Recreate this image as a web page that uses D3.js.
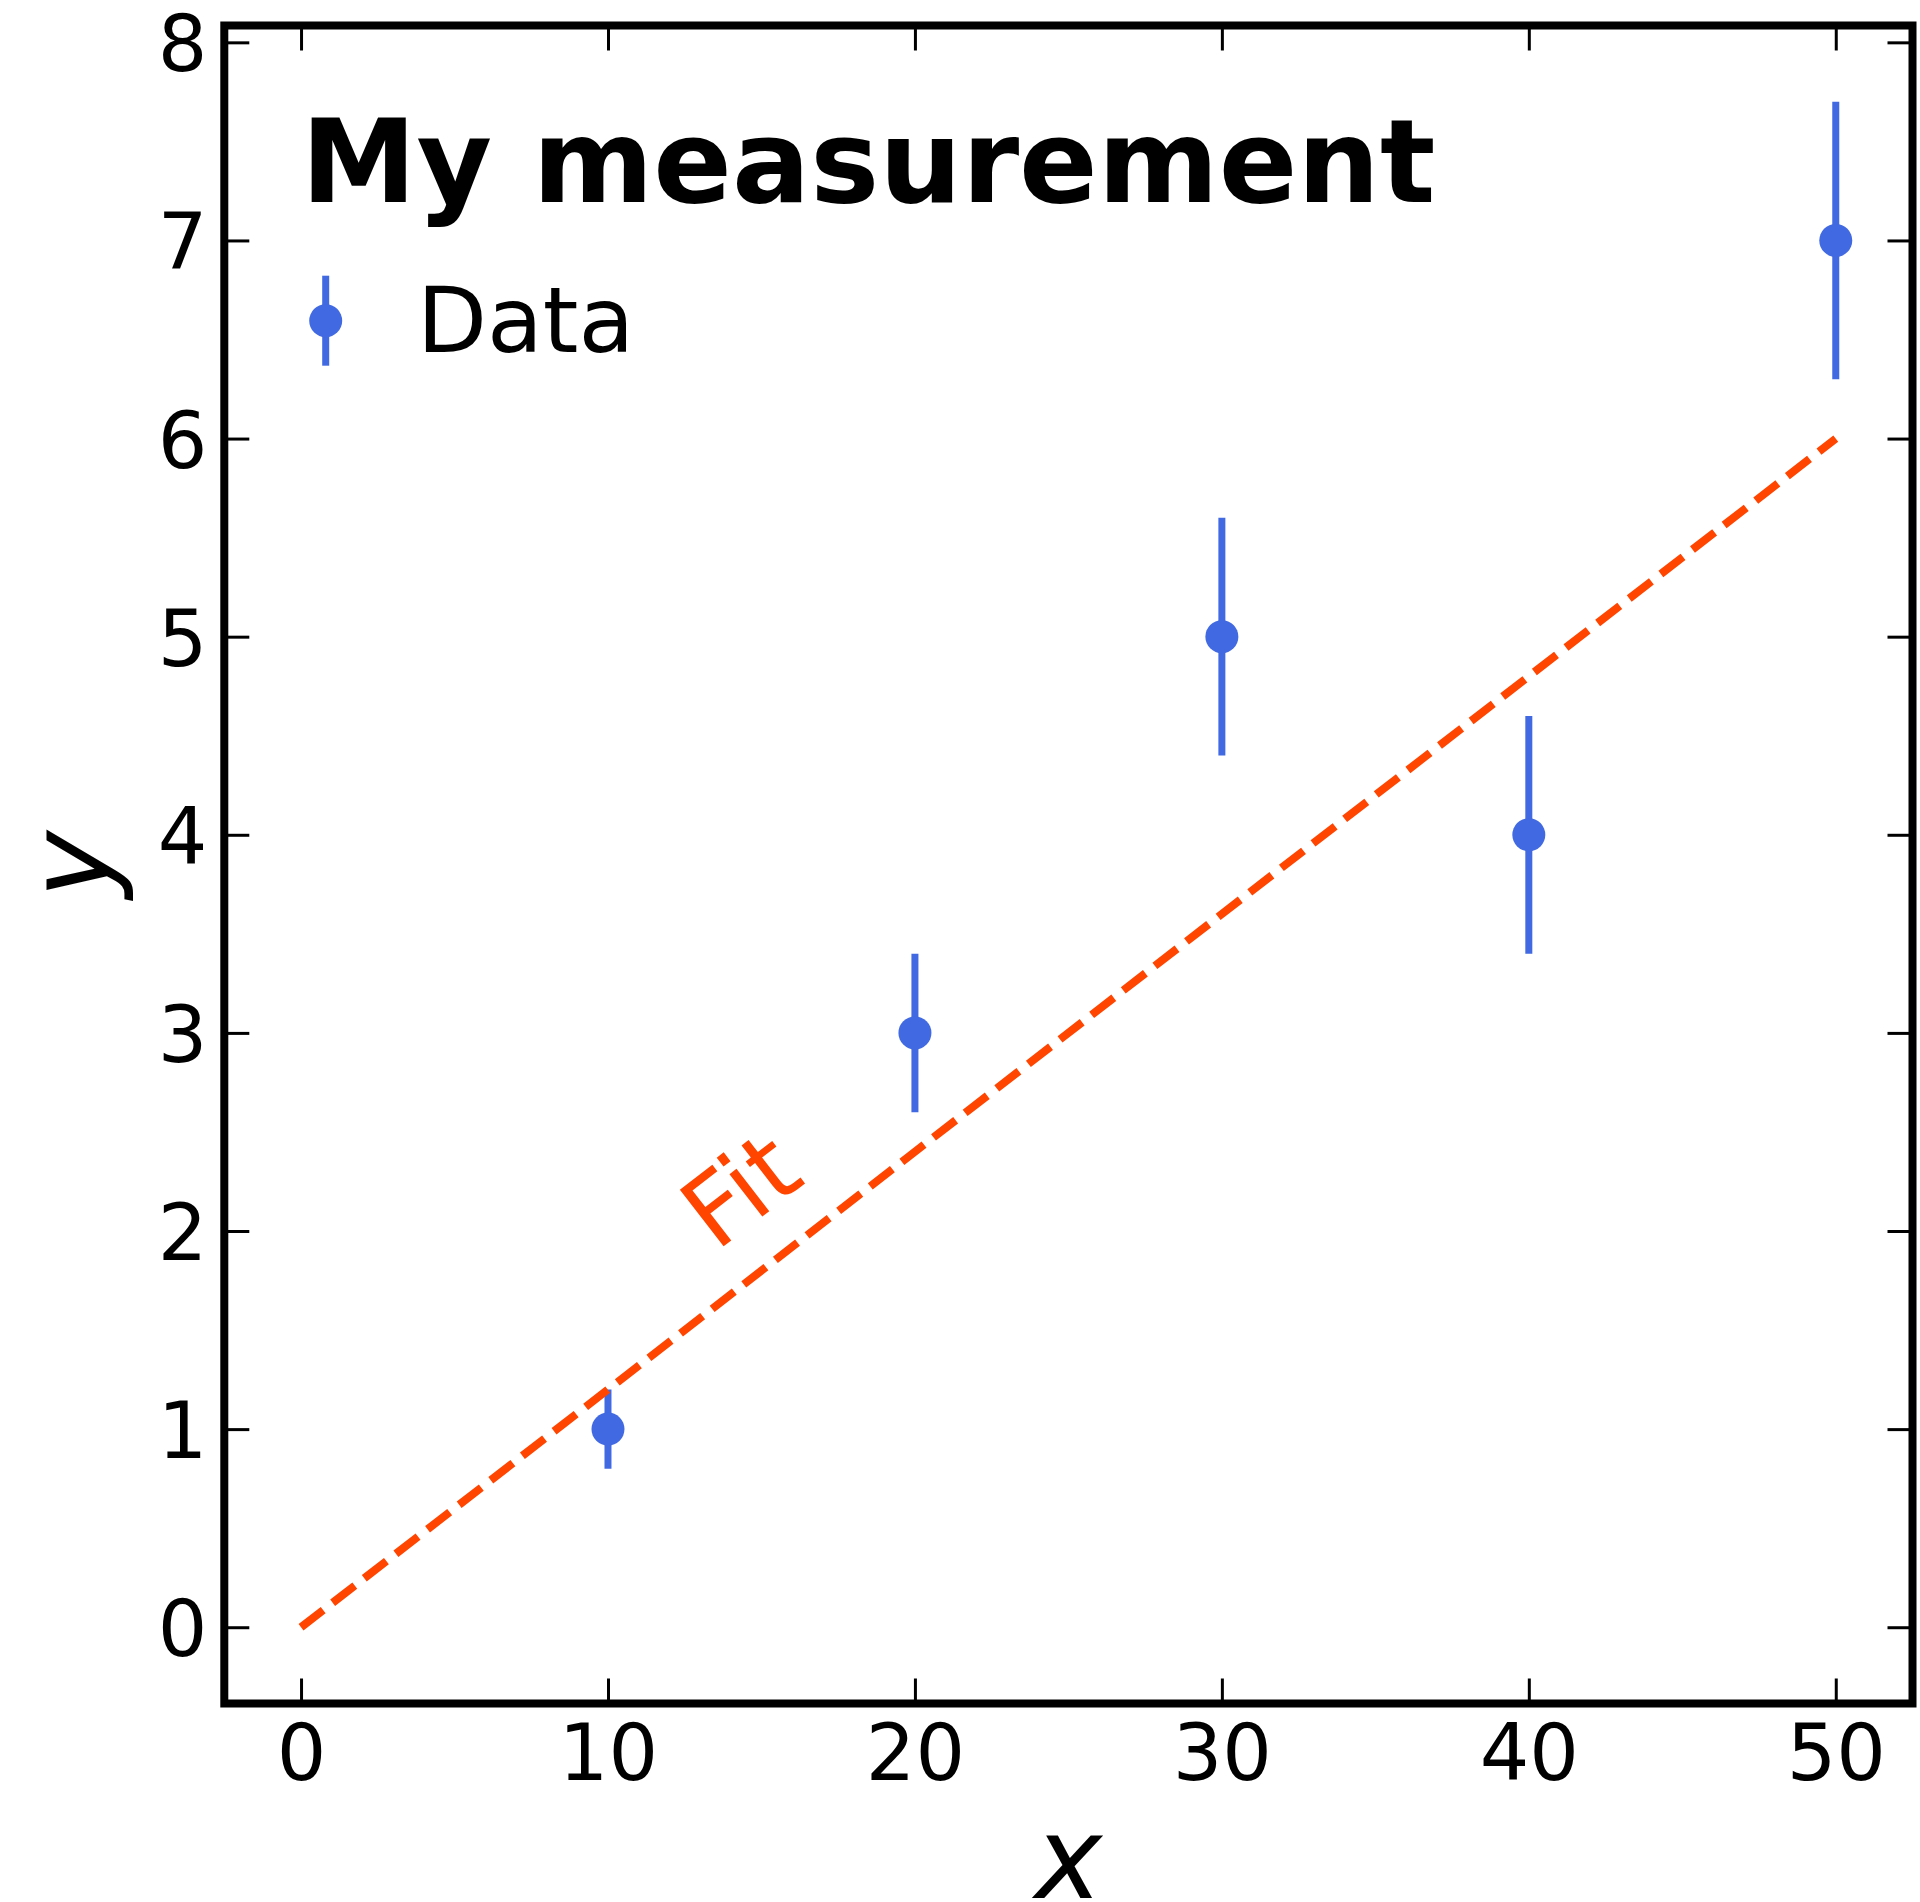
<!DOCTYPE html>
<html>
<head>
<meta charset="utf-8">
<script src="https://cdn.jsdelivr.net/npm/d3@7"></script>
<style>
  html, body { margin: 0; padding: 0; background: #ffffff; }
  svg { display: block; }
  text { font-family: "DejaVu Sans", sans-serif; fill: #000; }
</style>
</head>
<body>
<script>
// Measurements with symmetric uncertainties
const xValues = [10, 20, 30, 40, 50];
const yValues = [1, 3, 5, 4, 7];
const yErrors = [0.2, 0.4, 0.6, 0.6, 0.7];

// Straight-line fit, y = 0.12 x
const fitX = [0, 50];
const fitY = [0, 6];

// Axes
const xTicks = [0, 10, 20, 30, 40, 50];
const yTicks = [0, 1, 2, 3, 4, 5, 6, 7, 8];
const xDomain = [-2.5, 52.5];
const yDomain = [-0.385, 8.085];

// Text
const titleText = "My measurement";
const legendLabel = "Data";
const fitLabel = "Fit";
const fitLabelPos = [15.0, 2.07];
const xLabel = "x";
const yLabel = "y";

const W = 1920, H = 1902;
const blue = "#4169e1";
const orange = "#ff4500";

const svg = d3.select("body").append("svg")
  .attr("width", W).attr("height", H)
  .attr("viewBox", `0 0 ${W} ${H}`);

const x = d3.scaleLinear().domain(xDomain).range([224.3, 1912.5]);
const y = d3.scaleLinear().domain(yDomain).range([1703.5, 25.5]);

const tickLen = 25, tickW = 3, spineW = 8;
const tickFont = 78;

// Ticks on all four sides, pointing inward
function styleAxis(g) {
  g.select(".domain").remove();
  g.selectAll(".tick line").attr("stroke", "#000").attr("stroke-width", tickW);
}

const gBottom = svg.append("g")
  .attr("transform", `translate(0,${y.range()[0]})`)
  .call(d3.axisBottom(x).tickValues(xTicks).tickSizeInner(-tickLen).tickSizeOuter(0).tickFormat(d3.format("d")));
styleAxis(gBottom);
gBottom.selectAll(".tick text")
  .attr("y", 76).attr("dy", null)
  .style("font-size", tickFont + "px")
  .style("font-family", "DejaVu Sans");

const gTop = svg.append("g")
  .attr("transform", `translate(0,${y.range()[1]})`)
  .call(d3.axisTop(x).tickValues(xTicks).tickSizeInner(-tickLen).tickSizeOuter(0).tickFormat(""));
styleAxis(gTop);

const gLeft = svg.append("g")
  .attr("transform", `translate(${x.range()[0]},0)`)
  .call(d3.axisLeft(y).tickValues(yTicks).tickSizeInner(-tickLen).tickSizeOuter(0).tickFormat(d3.format("d")));
styleAxis(gLeft);
gLeft.selectAll(".tick text")
  .attr("x", -17).attr("dy", null).attr("y", 28.5)
  .attr("text-anchor", "end")
  .style("font-size", tickFont + "px")
  .style("font-family", "DejaVu Sans");

const gRight = svg.append("g")
  .attr("transform", `translate(${x.range()[1]},0)`)
  .call(d3.axisRight(y).tickValues(yTicks).tickSizeInner(-tickLen).tickSizeOuter(0).tickFormat(""));
styleAxis(gRight);

// Error bars and markers
const pts = xValues.map((v, i) => ({ x: v, y: yValues[i], e: yErrors[i] }));
const gData = svg.append("g");
gData.selectAll("line.err").data(pts).join("line")
  .attr("class", "err")
  .attr("x1", d => x(d.x)).attr("x2", d => x(d.x))
  .attr("y1", d => y(d.y - d.e)).attr("y2", d => y(d.y + d.e))
  .attr("stroke", blue).attr("stroke-width", 7);
gData.selectAll("circle").data(pts).join("circle")
  .attr("cx", d => x(d.x)).attr("cy", d => y(d.y))
  .attr("r", 16.5).attr("fill", blue);

// Fit line
const fitPts = fitX.map((v, i) => [v, fitY[i]]);
svg.append("path")
  .datum(fitPts)
  .attr("d", d3.line().x(d => x(d[0])).y(d => y(d[1])))
  .attr("fill", "none")
  .attr("stroke", orange)
  .attr("stroke-width", 8)
  .attr("stroke-dasharray", "28,12");

// Fit label, rotated along the line
const angle = Math.atan2(y(fitY[1]) - y(fitY[0]), x(fitX[1]) - x(fitX[0])) * 180 / Math.PI;
svg.append("text")
  .attr("transform", `translate(${x(fitLabelPos[0])},${y(fitLabelPos[1])}) rotate(${angle})`)
  .attr("text-anchor", "middle")
  .style("font-size", "98px")
  .style("fill", orange)
  .text(fitLabel);

// Frame
svg.append("rect")
  .attr("x", x.range()[0]).attr("y", y.range()[1])
  .attr("width", x.range()[1] - x.range()[0])
  .attr("height", y.range()[0] - y.range()[1])
  .attr("fill", "none").attr("stroke", "#000").attr("stroke-width", spineW);

// Title inside the axes
svg.append("text")
  .attr("x", 301).attr("y", 202)
  .style("font-size", "116px").style("font-weight", "bold")
  .text(titleText);

// Legend
const lg = svg.append("g").attr("transform", "translate(325.7,320.7)");
lg.append("line").attr("x1", 0).attr("x2", 0).attr("y1", -45).attr("y2", 45)
  .attr("stroke", blue).attr("stroke-width", 7);
lg.append("circle").attr("r", 16.5).attr("fill", blue);
svg.append("text")
  .attr("x", 417).attr("y", 352)
  .style("font-size", "91px")
  .text(legendLabel);

// Axis labels
svg.append("text")
  .attr("x", x(25)).attr("y", 1898)
  .attr("text-anchor", "middle")
  .style("font-size", "114px").style("font-style", "italic")
  .text(xLabel);
svg.append("text")
  .attr("transform", `translate(108.7,${(y.range()[0] + y.range()[1]) / 2}) rotate(-90)`)
  .attr("text-anchor", "middle")
  .style("font-size", "114px").style("font-style", "italic")
  .text(yLabel);
</script>
</body>
</html>
